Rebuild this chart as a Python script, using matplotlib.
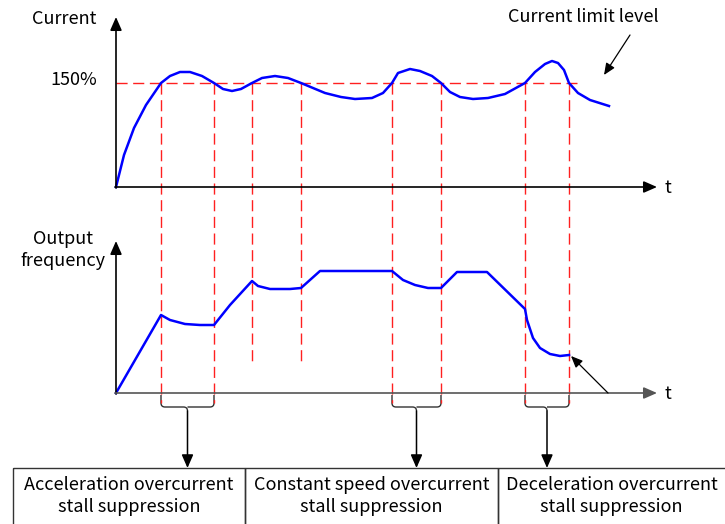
import matplotlib.pyplot as plt
from matplotlib.path import Path
from matplotlib.patches import PathPatch, Rectangle
import numpy as np

plt.rcParams['font.family'] = ['Noto Sans CJK SC', 'DejaVu Sans']

# diagram coordinates are in image pixels (x right, y down)
cur_x = [116, 124, 134, 146, 161, 170, 180, 190, 202, 214, 223, 232, 241, 252, 262, 275, 288, 301,
         313, 325, 341, 355, 372, 383, 392, 398, 410, 420, 432, 441, 450, 460, 473, 488, 505, 525,
         535, 545, 552, 558, 564, 569, 578, 590, 609]
cur_y = [187, 155, 128, 105, 83, 76, 72, 72, 76, 83, 89, 91, 89, 83, 78, 76, 78, 83,
         88, 93, 97, 99, 98, 93, 83, 73, 69, 71, 76, 83, 92, 97, 99, 98, 94, 83,
         72, 64, 61, 63, 70, 83, 93, 100, 106]

freq_x = [116, 161, 170, 185, 200, 214, 230, 252, 258, 270, 290, 301, 320, 392, 403, 415, 428, 441,
          457, 487, 525, 527, 533, 540, 550, 560, 569]
freq_y = [393, 315, 320, 324, 325, 325, 305, 281, 286, 289, 289, 288, 271, 271, 280, 285, 288, 288,
          272, 272, 309, 320, 338, 348, 354, 356, 355]

limit_y = 83
cross_x = [161, 214, 252, 301, 392, 441, 525, 569]
cross_end = [403, 403, 362, 362, 403, 403, 403, 403]

brace_pairs = [(161, 214), (392, 441), (525, 569)]
box_edges = [13, 245, 498, 740]
box_labels = ['Acceleration overcurrent\nstall suppression',
              'Constant speed overcurrent\nstall suppression',
              'Deceleration overcurrent\nstall suppression']

fig = plt.figure(figsize=(7.25, 5.24), dpi=100)
ax = fig.add_axes([0, 0, 1, 1])
ax.set_xlim(0, 725)
ax.set_ylim(524, 0)
ax.axis('off')

fs = 13
arrow_kw = dict(arrowstyle='-|>,head_length=0.8,head_width=0.35', color='black', lw=1.2,
                shrinkA=0, shrinkB=0)

# axes of the two panels
ax.annotate('', xy=(116, 17), xytext=(116, 188), arrowprops=arrow_kw)
ax.annotate('', xy=(657, 187), xytext=(115, 187), arrowprops=arrow_kw)
ax.annotate('', xy=(116, 241), xytext=(116, 394), arrowprops=arrow_kw)
ax.annotate('', xy=(657, 393), xytext=(115, 393),
            arrowprops=dict(arrowstyle='-|>,head_length=0.8,head_width=0.35', color='#555555',
                            lw=1.2, shrinkA=0, shrinkB=0))
ax.text(665, 188, 't', fontsize=fs, va='center', ha='left')
ax.text(665, 394, 't', fontsize=fs, va='center', ha='left')
ax.text(64, 19, 'Current', fontsize=fs, va='center', ha='center')
ax.text(74, 80, '150%', fontsize=fs, va='center', ha='center')
ax.text(63, 250, 'Output\nfrequency', fontsize=fs, va='center', ha='center', linespacing=1.25)
ax.text(583, 17, 'Current limit level', fontsize=fs, va='center', ha='center')

# current limit and crossing lines
red = '#ff2020'
ax.plot([116, 577], [limit_y, limit_y], color=red, lw=1.0, ls=(0, (8, 4)))
for xv, ye in zip(cross_x, cross_end):
    ax.plot([xv, xv], [limit_y, ye], color=red, lw=1.0, ls=(0, (8, 4)))

ax.plot(cur_x, cur_y, color='#0000ff', lw=1.8, solid_joinstyle='round')
ax.plot(freq_x, freq_y, color='#0000ff', lw=1.8, solid_joinstyle='round')

ax.annotate('', xy=(604, 75), xytext=(630, 35), arrowprops=dict(
    arrowstyle='-|>,head_length=0.7,head_width=0.3', color='black', lw=0.9, shrinkA=0, shrinkB=0))
ax.annotate('', xy=(571, 356), xytext=(608, 393), arrowprops=dict(
    arrowstyle='-|>,head_length=0.7,head_width=0.3', color='black', lw=0.9, shrinkA=0, shrinkB=0))


def brace(x0, x1, y0=395, y1=407, y2=411, r=4):
    xm = (x0 + x1) / 2
    verts = [(x0, y0), (x0, y1 - r), (x0, y1), (x0 + r, y1),
             (xm - r, y1), (xm, y1), (xm, y2),
             (xm, y1), (xm + r, y1), (x1 - r, y1), (x1, y1), (x1, y1 - r), (x1, y0)]
    codes = [Path.MOVETO, Path.LINETO, Path.CURVE3, Path.CURVE3,
             Path.LINETO, Path.CURVE3, Path.CURVE3,
             Path.MOVETO, Path.CURVE3, Path.LINETO, Path.CURVE3, Path.CURVE3, Path.LINETO]
    ax.add_patch(PathPatch(Path(verts, codes), fill=False, lw=1.0, edgecolor='#333333'))
    ax.annotate('', xy=(xm, 468), xytext=(xm, y2), arrowprops=dict(
        arrowstyle='-|>,head_length=0.8,head_width=0.35', color='black', lw=1.1,
        shrinkA=0, shrinkB=0))


for a, b in brace_pairs:
    brace(a, b)

for i, lab in enumerate(box_labels):
    x0, x1 = box_edges[i], box_edges[i + 1]
    ax.add_patch(Rectangle((x0, 468), x1 - x0, 80, fill=False, lw=1.0, edgecolor='#333333'))
    ax.text((x0 + min(x1, 725)) / 2, 496, lab, fontsize=fs, ha='center', va='center',
            linespacing=1.3)

fig.savefig('out.png', dpi=100)
